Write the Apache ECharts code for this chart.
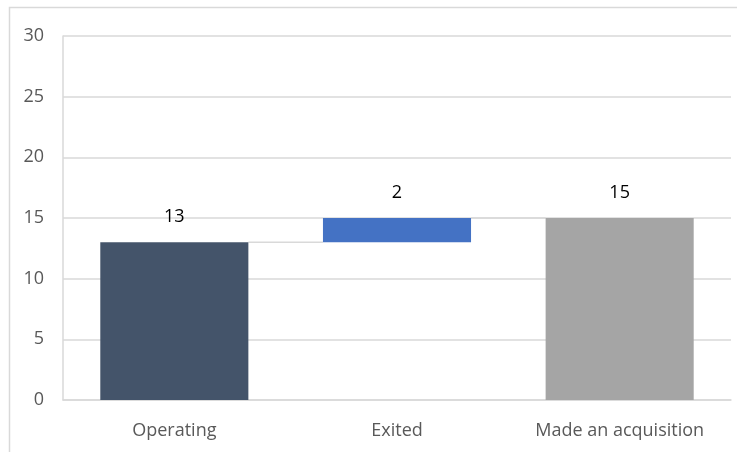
<!DOCTYPE html>
<html><head><meta charset="utf-8">
<script src="https://cdn.jsdelivr.net/npm/echarts@6/dist/echarts.min.js"></script>
<style>html,body{margin:0;padding:0;background:#fff}#c{width:737px;height:452px}</style>
</head><body><div id="c"></div>
<script>
const categories = ['Operating', 'Exited', 'Made an acquisition'];
const baseValues = [0, 13, 0];
const deltaValues = [13, 2, 15];
const barColors = ['#44546A', '#4472C4', '#A5A5A5'];
const yTicks = { min: 0, max: 30, interval: 5 };

const chart = echarts.init(document.getElementById('c'));
const FONT = 'Open Sans';
const gapRatio = 0.335;
const levels = baseValues.map((b, i) => b + deltaValues[i]);

chart.setOption({
  animation: false,
  graphic: [{
    type: 'rect', silent: true,
    shape: { x: 9.5, y: 7.5, width: 760, height: 460 },
    style: { fill: 'none', stroke: '#d9d9d9', lineWidth: 1.5 }
  }],
  grid: { left: 63, right: 6, top: 36, bottom: 52, containLabel: false },
  xAxis: {
    type: 'category', data: categories,
    axisLine: { show: true, lineStyle: { color: '#d9d9d9', width: 1.5 } },
    axisTick: { show: false },
    axisLabel: { color: '#595959', fontFamily: FONT, fontSize: 18, margin: 22 }
  },
  yAxis: {
    type: 'value', min: yTicks.min, max: yTicks.max, interval: yTicks.interval,
    axisLine: { show: true, lineStyle: { color: '#d9d9d9', width: 1.5 } },
    axisTick: { show: false },
    splitLine: { lineStyle: { color: '#d9d9d9', width: 1.5 } },
    axisLabel: { color: '#595959', fontFamily: FONT, fontSize: 18, margin: 19 }
  },
  series: [
    {
      type: 'bar', stack: 'w', data: baseValues,
      itemStyle: { color: 'transparent' }, barCategoryGap: (gapRatio * 100) + '%',
      silent: true
    },
    {
      type: 'bar', stack: 'w', barCategoryGap: (gapRatio * 100) + '%',
      data: deltaValues.map((v, i) => ({ value: v, itemStyle: { color: barColors[i] } })),
      label: { show: true, position: 'top', distance: 16, color: '#000', fontFamily: FONT, fontSize: 18 }
    },
    {
      type: 'custom', silent: true, z: 1,
      data: levels.slice(0, -1).map((lv, i) => [i, lv]),
      renderItem: function (params, api) {
        const i = api.value(0), lv = api.value(1);
        const w = api.size([1, 0])[0];
        const half = w * (1 - gapRatio) / 2;
        const p1 = api.coord([i, lv]);
        const p2 = api.coord([i + 1, lv]);
        return {
          type: 'line',
          shape: { x1: p1[0] + half, y1: p1[1], x2: p2[0] - half, y2: p2[1] },
          style: { stroke: '#d9d9d9', lineWidth: 1.5 }
        };
      }
    }
  ]
});
</script></body></html>
